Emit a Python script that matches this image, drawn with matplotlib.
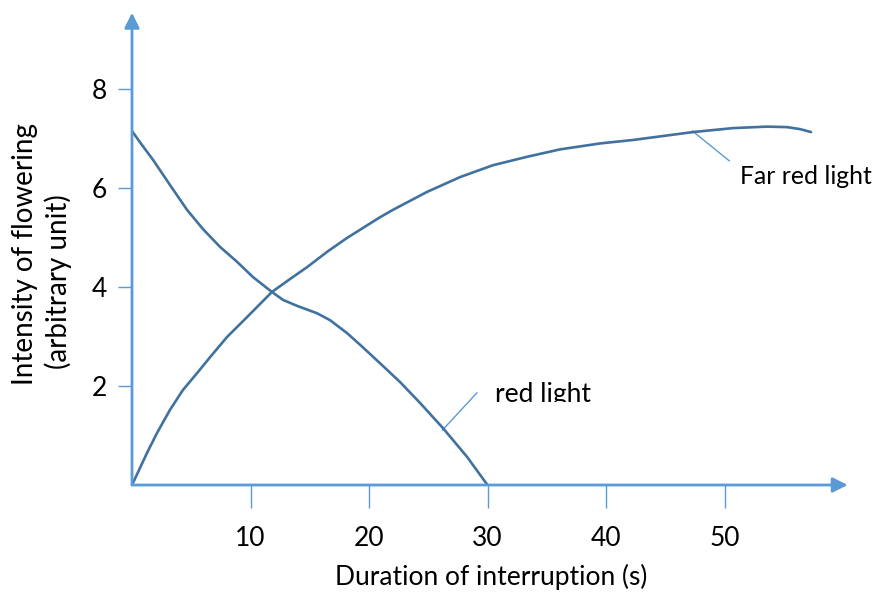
import matplotlib
matplotlib.use("Agg")
import matplotlib.pyplot as plt
from matplotlib.transforms import Bbox

plt.rcParams["font.family"] = ["Lato", "DejaVu Sans"]

# duration of interruption (s) vs intensity of flowering (arbitrary unit)
red_x = [0, 0.84, 1.77, 3.21, 4.64, 5.99, 7.43, 8.86, 10.21, 11.81, 12.74, 13.92,
         15.61, 16.71, 18.14, 19.4, 20.93, 22.62, 24.30, 26.24, 28.27, 30.0]
red_y = [7.15, 6.87, 6.57, 6.06, 5.56, 5.17, 4.81, 4.51, 4.20, 3.90, 3.74, 3.62,
         3.47, 3.33, 3.07, 2.80, 2.46, 2.08, 1.66, 1.15, 0.57, 0.0]

far_x = [0, 0.51, 1.27, 2.11, 3.21, 4.30, 5.49, 6.58, 8.02, 9.70, 11.81, 13.33,
         14.77, 16.46, 18.14, 20.93, 22.03, 24.89, 27.68, 30.46, 33.33, 36.12,
         39.49, 42.28, 44.8, 47.34, 50.72, 53.59, 55.27, 56.37, 57.30]
far_y = [0.0, 0.26, 0.65, 1.05, 1.52, 1.92, 2.26, 2.58, 2.99, 3.39, 3.90, 4.16,
         4.40, 4.71, 4.99, 5.41, 5.56, 5.92, 6.22, 6.46, 6.63, 6.78,
         6.90, 6.97, 7.05, 7.13, 7.21, 7.24, 7.23, 7.19, 7.13]

x_ticks = [10, 20, 30, 40, 50]
y_ticks = [2, 4, 6, 8]

AXIS = "#5B9BD5"
CURVE = "#41729F"
W, H = 873, 593
FS = 19

fig = plt.figure(figsize=(W / 100, H / 100), dpi=100)
ax = fig.add_axes([132 / W, 108 / H, 61 * 11.85 / W, 9.7 * 49.5 / H])
ax.set_xlim(0, 61)
ax.set_ylim(0, 9.7)
for s in ax.spines.values():
    s.set_visible(False)

ax.plot(red_x, red_y, color=CURVE, lw=1.9, solid_capstyle="round",
        solid_joinstyle="round", zorder=3)
ax.plot(far_x, far_y, color=CURVE, lw=1.9, solid_capstyle="round",
        solid_joinstyle="round", zorder=3)

# axes with arrow heads
arrow = dict(arrowstyle="-|>,head_length=0.9,head_width=0.45", color=AXIS, lw=2,
             shrinkA=0, shrinkB=0)
ax.annotate("", xy=(60.4, 0), xytext=(0, 0), arrowprops=arrow, annotation_clip=False)
ax.annotate("", xy=(0, 9.54), xytext=(0, 0), arrowprops=arrow, annotation_clip=False)

ax.set_xticks(x_ticks)
ax.set_xticklabels([str(v) for v in x_ticks])
ax.set_yticks(y_ticks)
ax.set_yticklabels([str(v) for v in y_ticks])
ax.tick_params(axis="x", direction="out", length=16.5, width=1, color=AXIS, pad=13,
               labelsize=FS, labelcolor="black")
ax.tick_params(axis="y", direction="out", length=10, width=1, color=AXIS, pad=8,
               labelsize=FS, labelcolor="black")

# leader lines
ax.plot([26.2, 29.1], [1.11, 1.86], color=AXIS, lw=1, zorder=2)
ax.plot([47.3, 50.4], [7.15, 6.55], color=AXIS, lw=1, zorder=2)

# curve labels (clipped at the bottom as in the original)
t1 = fig.text(495 / W, 1 - 382 / H, "red light", fontsize=FS, va="top", ha="left",
              clip_on=True)
t1.set_clip_box(Bbox.from_extents(0, H - 402, W, H))
t2 = fig.text(740 / W, 1 - 165 / H, "Far red light", fontsize=17.8, va="top", ha="left",
              clip_on=True)
t2.set_clip_box(Bbox.from_extents(0, H - 189, W, H))

fig.text(25 / W, 1 - 254 / H, "Intensity of flowering", fontsize=20, rotation=90,
         ha="center", va="center")
fig.text(58 / W, 1 - 282 / H, "(arbitrary unit)", fontsize=20, rotation=90,
         ha="center", va="center")
fig.text(491 / W, 1 - 577 / H, "Duration of interruption (s)", fontsize=FS,
         ha="center", va="center")

fig.savefig("out.png", dpi=100)
